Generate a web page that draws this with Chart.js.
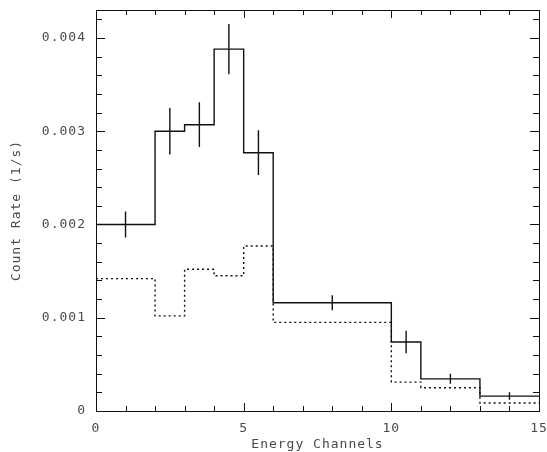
<!DOCTYPE html>
<html>
<head>
<meta charset="utf-8">
<script src="https://cdn.jsdelivr.net/npm/chart.js@4.4.1/dist/chart.umd.min.js"></script>
<style>
  html, body { margin: 0; padding: 0; background: #fff; }
  #wrap { width: 547px; height: 452px; }
</style>
</head>
<body>
<div id="wrap"><canvas id="chart"></canvas></div>
<script>
// ── Data ───────────────────────────────────────────────────────
const binEdges  = [0, 2, 3, 4, 5, 6, 10, 11, 13, 15];
const binCenter = [1, 2.5, 3.5, 4.5, 5.5, 8, 10.5, 12, 14];
const countRate = [0.00200, 0.00300, 0.00307, 0.00388, 0.00277, 0.00116, 0.00074, 0.000345, 0.00016];
const rateError = [0.00014, 0.00025, 0.00024, 0.00027, 0.00024, 0.00008, 0.00012, 0.000054, 0.00004];
const modelRate = [0.00142, 0.00102, 0.00152, 0.00145, 0.00177, 0.00095, 0.00031, 0.00025, 0.000086];

const xTitle = 'Energy Channels';
const yTitle = 'Count Rate (1/s)';

// ── Helpers ────────────────────────────────────────────────────
// one point per bin edge; the last bin's value is repeated at the right edge
const stepPoints = vals => binEdges.map((x, i) => ({ x, y: vals[Math.min(i, vals.length - 1)] }));

function errorPoints() {
  const pts = [];
  binCenter.forEach((x, i) => {
    pts.push({ x, y: countRate[i] - rateError[i] });
    pts.push({ x, y: countRate[i] + rateError[i] });
    pts.push({ x, y: null });
  });
  return pts;
}

const textColor = '#4a4a4a';
const lineColor = '#111';
const monoFont  = { family: '"DejaVu Sans Mono", monospace', size: 13 };

// ── Frame + inward ticks on all four sides ─────────────────────
const framePlugin = {
  id: 'frame',
  beforeDraw(chart) {
    chart.ctx.letterSpacing = '1px';
  },
  afterDraw(chart) {
    const { ctx, chartArea: a, scales: { x, y } } = chart;
    ctx.save();
    ctx.strokeStyle = lineColor;
    ctx.lineWidth = 1;
    ctx.strokeRect(a.left + 0.5, a.top + 0.5, a.right - a.left, a.bottom - a.top);
    ctx.beginPath();
    for (let v = 0; v <= 15; v++) {
      const px = Math.round(x.getPixelForValue(v)) + 0.5;
      const len = v % 5 === 0 ? 8 : 5;
      ctx.moveTo(px, a.bottom); ctx.lineTo(px, a.bottom - len);
      ctx.moveTo(px, a.top);    ctx.lineTo(px, a.top + len);
    }
    for (let k = 0; k <= 21; k++) {
      const py = Math.round(y.getPixelForValue(k * 0.0002)) + 0.5;
      const len = k % 5 === 0 ? 9 : 6;
      ctx.moveTo(a.left, py);  ctx.lineTo(a.left + len, py);
      ctx.moveTo(a.right, py); ctx.lineTo(a.right - len, py);
    }
    ctx.stroke();
    ctx.restore();
  },
};

// ── Chart ──────────────────────────────────────────────────────
new Chart(document.getElementById('chart'), {
  type: 'line',
  data: {
    datasets: [
      {
        label: 'data',
        data: stepPoints(countRate),
        stepped: 'before',
        borderColor: lineColor,
        borderWidth: 1.4,
        pointRadius: 0,
      },
      {
        label: 'error',
        data: errorPoints(),
        borderColor: lineColor,
        borderWidth: 1.4,
        pointRadius: 0,
        spanGaps: false,
      },
      {
        label: 'model',
        data: stepPoints(modelRate),
        stepped: 'before',
        borderColor: lineColor,
        borderWidth: 1.4,
        borderDash: [2, 3],
        pointRadius: 0,
      },
    ],
  },
  options: {
    responsive: true,
    maintainAspectRatio: false,
    animation: false,
    events: [],
    layout: { padding: { top: 10, right: 8, left: 0, bottom: 0 } },
    plugins: { legend: { display: false }, tooltip: { enabled: false } },
    scales: {
      x: {
        type: 'linear',
        min: 0,
        max: 15,
        grid: { display: false },
        border: { display: false },
        ticks: { stepSize: 5, color: textColor, font: monoFont, padding: 2, maxRotation: 0 },
        title: { display: true, text: xTitle, color: textColor, font: monoFont, padding: { top: 0, bottom: 0 } },
        afterFit: s => { s.height = 41; s.paddingLeft = 0; s.paddingRight = 0; },
      },
      y: {
        type: 'linear',
        min: 0,
        max: 0.0043,
        grid: { display: false },
        border: { display: false },
        ticks: {
          stepSize: 0.001,
          includeBounds: false,
          color: textColor,
          font: monoFont,
          padding: 2,
          callback: v => v === 0 ? '0' : v.toFixed(3),
        },
        title: { display: true, text: yTitle, color: textColor, font: monoFont, padding: { top: 9, bottom: 0 } },
        afterFit: s => { s.width = 96; s.paddingTop = 0; s.paddingBottom = 0; },
      },
    },
  },
  plugins: [framePlugin],
});
</script>
</body>
</html>
